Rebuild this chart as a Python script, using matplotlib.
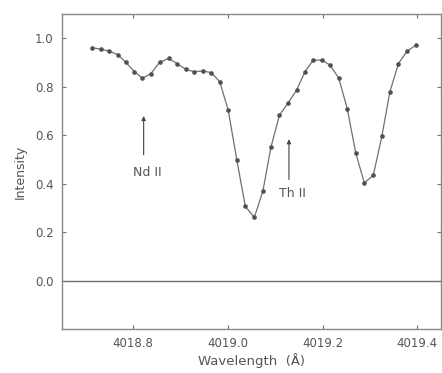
import numpy as np
import matplotlib
matplotlib.use('Agg')
import matplotlib.pyplot as plt

# wavelength (A) and intensity
wavelength = [4018.714, 4018.732, 4018.749, 4018.768, 4018.785, 4018.803, 4018.820,
              4018.838, 4018.856, 4018.875, 4018.893, 4018.911, 4018.928, 4018.947,
              4018.965, 4018.983, 4019.001, 4019.019, 4019.037, 4019.056, 4019.074,
              4019.091, 4019.109, 4019.127, 4019.145, 4019.163, 4019.180, 4019.199,
              4019.216, 4019.234, 4019.252, 4019.270, 4019.288, 4019.307, 4019.325,
              4019.342, 4019.360, 4019.378, 4019.396]
intensity = [0.962, 0.955, 0.948, 0.933, 0.901, 0.863, 0.835,
             0.855, 0.901, 0.917, 0.896, 0.872, 0.863, 0.865,
             0.859, 0.821, 0.703, 0.498, 0.306, 0.261, 0.369,
             0.551, 0.683, 0.733, 0.786, 0.863, 0.910, 0.910,
             0.889, 0.836, 0.710, 0.526, 0.403, 0.435, 0.596,
             0.780, 0.896, 0.947, 0.971]

x_ticks = [4018.8, 4019.0, 4019.2, 4019.4]
y_ticks = [0.0, 0.2, 0.4, 0.6, 0.8, 1.0]

# line identifications: label, wavelength, arrow base, arrow tip, text y
lines = [('Nd II', 4018.8225, 0.508, 0.691, 0.447),
         ('Th II', 4019.129, 0.406, 0.595, 0.358)]

grey = '#707070'
text_grey = '#555555'

fig = plt.figure(figsize=(4.42, 3.73), dpi=100)
ax = fig.add_axes([0.140, 0.118, 0.858, 0.844])

ax.plot(wavelength, intensity, color=grey, lw=0.9, marker='o', ms=2.3,
        mfc='#505050', mec='#505050')
ax.axhline(0.0, color=grey, lw=1.0)

for label, wl, base, tip, ty in lines:
    ax.annotate('', xy=(wl, tip), xytext=(wl, base),
                arrowprops=dict(arrowstyle='-|>', color='#444444', lw=0.8,
                                mutation_scale=6))
    ax.text(wl + 0.007, ty, label, ha='center', va='center', fontsize=9,
            color=text_grey)

ax.set_xlim(4018.65, 4019.45)
ax.set_ylim(-0.2, 1.1)
ax.set_xticks(x_ticks)
ax.set_xticklabels(['%.1f' % v for v in x_ticks])
ax.set_yticks(y_ticks)
ax.set_yticklabels(['%.1f' % v for v in y_ticks])
ax.tick_params(direction='in', top=True, right=True, length=3, width=0.8,
               colors=grey, labelcolor=text_grey, labelsize=8.5)
ax.tick_params(axis='x', pad=6)
ax.tick_params(axis='y', pad=6)
for s in ax.spines.values():
    s.set_color('#888888')
    s.set_linewidth(1.0)

ax.set_xlabel('Wavelength  (Å)', color=text_grey, fontsize=9.5, labelpad=2)
ax.set_ylabel('Intensity', color=text_grey, fontsize=9, labelpad=6)

fig.savefig('out.png', dpi=100)
